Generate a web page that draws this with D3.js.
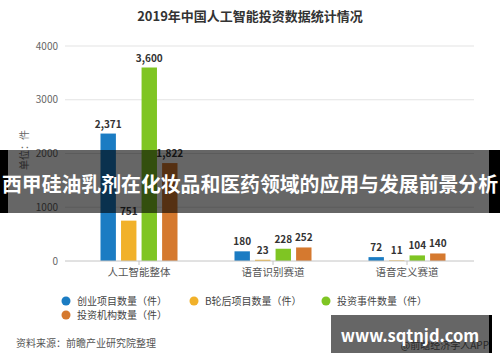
<!DOCTYPE html>
<html>
  <head>
    <meta charset="utf-8" />
    <script src="https://d3js.org/d3.v7.min.js"></script>
    <style>
      body {
        margin: 0;
        background: #fff;
      }
      svg text {
        font-family: "Noto Sans CJK SC", "Noto Sans", sans-serif;
      }
    </style>
  </head>
  <body>
    <div id="my_chart"></div>
    <script>
      // chart data
      const categories = ["人工智能整体", "语音识别赛道", "语音定义赛道"];
      const seriesNames = [
        "创业项目数量（件）",
        "B轮后项目数量（件）",
        "投资事件数量（件）",
        "投资机构数量（件）",
      ];
      const startups = [2371, 180, 72];
      const roundB = [751, 23, 11];
      const events = [3600, 228, 104];
      const investors = [1822, 252, 140];
      const yTicks = [0, 1000, 2000, 3000, 4000];

      const colors = ["#1b7cc3", "#f1b12a", "#7fc523", "#d5792f"];
      const allSeries = [startups, roundB, events, investors];

      const width = 500,
        height = 362;

      const svg = d3
        .select("#my_chart")
        .append("svg")
        .attr("width", width)
        .attr("height", height);

      // title
      svg
        .append("text")
        .attr("x", 250)
        .attr("y", 21)
        .attr("text-anchor", "middle")
        .attr("font-size", 13)
        .attr("font-weight", "bold")
        .attr("fill", "#333")
        .text("2019年中国人工智能投资数据统计情况");

      // scales
      const x = d3.scaleBand().domain(categories).range([72, 474]);
      const xInner = d3
        .scaleBand()
        .domain(d3.range(seriesNames.length))
        .range([-38.5, 38.5])
        .paddingInner(0.25);
      const y = d3.scaleLinear().domain([0, 4000]).range([261, 46]);

      // grid + y labels
      const grid = svg.append("g");
      grid
        .selectAll("line")
        .data(yTicks.filter((d) => d > 0))
        .enter()
        .append("line")
        .attr("x1", 65)
        .attr("x2", 474)
        .attr("y1", (d) => y(d))
        .attr("y2", (d) => y(d))
        .attr("stroke", "#e3e3e3");
      grid
        .selectAll("text")
        .data(yTicks)
        .enter()
        .append("text")
        .attr("x", 58)
        .attr("y", (d) => y(d) + 3.5)
        .attr("text-anchor", "end")
        .attr("font-size", 10)
        .attr("fill", "#666")
        .text((d) => d);

      // y axis title
      svg
        .append("text")
        .attr("transform", "translate(28,150) rotate(-90)")
        .attr("text-anchor", "middle")
        .attr("font-size", 10)
        .attr("fill", "#666")
        .text("单位：件");

      // bars
      const groups = svg
        .selectAll(".grp")
        .data(categories)
        .enter()
        .append("g")
        .attr("transform", (d) => `translate(${x(d) + x.bandwidth() / 2},0)`);

      groups.each(function (cat, ci) {
        const g = d3.select(this);
        const vals = allSeries.map((s) => s[ci]);
        g.selectAll("rect")
          .data(vals)
          .enter()
          .append("rect")
          .attr("x", (d, i) => xInner(i))
          .attr("width", xInner.bandwidth())
          .attr("y", (d) => y(d))
          .attr("height", (d) => y(0) - y(d))
          .attr("fill", (d, i) => colors[i]);
        g.selectAll("text")
          .data(vals)
          .enter()
          .append("text")
          .attr("x", (d, i) => xInner(i) + xInner.bandwidth() / 2)
          .attr("y", (d) => y(d) - 6)
          .attr("text-anchor", "middle")
          .attr("font-size", 10)
          .attr("font-weight", "bold")
          .attr("fill", "#333")
          .text((d) => d3.format(",")(d));
      });

      // x axis
      const xAxis = svg.append("g");
      xAxis
        .append("line")
        .attr("x1", 65)
        .attr("x2", 474)
        .attr("y1", y(0))
        .attr("y2", y(0))
        .attr("stroke", "#c4c4c4");
      xAxis
        .selectAll(".tick")
        .data(categories)
        .enter()
        .append("line")
        .attr("x1", (d) => x(d) + x.bandwidth() / 2)
        .attr("x2", (d) => x(d) + x.bandwidth() / 2)
        .attr("y1", y(0))
        .attr("y2", y(0) + 4)
        .attr("stroke", "#c4c4c4");
      xAxis
        .selectAll("text")
        .data(categories)
        .enter()
        .append("text")
        .attr("x", (d) => x(d) + x.bandwidth() / 2)
        .attr("y", 276)
        .attr("text-anchor", "middle")
        .attr("font-size", 10.5)
        .attr("fill", "#555")
        .text((d) => d);

      // legend
      const legendPos = [
        [66, 301],
        [194, 301],
        [326, 301],
        [66, 315],
      ];
      const legend = svg
        .selectAll(".leg")
        .data(seriesNames)
        .enter()
        .append("g")
        .attr("transform", (d, i) => `translate(${legendPos[i][0]},${legendPos[i][1]})`);
      legend
        .append("circle")
        .attr("r", 4.5)
        .attr("fill", (d, i) => colors[i]);
      legend
        .append("text")
        .attr("x", 11)
        .attr("y", 3.5)
        .attr("font-size", 10)
        .attr("fill", "#444")
        .text((d) => d);

      // source
      svg
        .append("text")
        .attr("x", 16)
        .attr("y", 347)
        .attr("font-size", 10)
        .attr("fill", "#555")
        .text("资料来源：前瞻产业研究院整理");
      svg
        .append("text")
        .attr("x", 489)
        .attr("y", 349)
        .attr("text-anchor", "end")
        .attr("font-size", 10)
        .attr("fill", "#666")
        .text("@前瞻经济学人APP");

      // overlay banner
      svg
        .append("rect")
        .attr("x", 0)
        .attr("y", 150)
        .attr("width", width)
        .attr("height", 63)
        .attr("fill", "#000")
        .attr("opacity", 0.6);
      svg.append("rect").attr("x", 0).attr("y", 150).attr("width", 8).attr("height", 63).attr("fill", "#000");
      svg.append("rect").attr("x", 489).attr("y", 150).attr("width", 11).attr("height", 63).attr("fill", "#000");
      svg
        .append("text")
        .attr("x", 250)
        .attr("y", 192)
        .attr("text-anchor", "middle")
        .attr("font-size", 20)
        .attr("font-weight", "bold")
        .attr("fill", "#fff")
        .attr("textLength", 496)
        .attr("lengthAdjust", "spacingAndGlyphs")
        .text("西甲硅油乳剂在化妆品和医药领域的应用与发展前景分析");

      // watermark box
      svg
        .append("rect")
        .attr("x", 331)
        .attr("y", 315)
        .attr("width", 159)
        .attr("height", 38)
        .attr("fill", "#000")
        .attr("opacity", 0.6);
      svg.append("rect").attr("x", 489).attr("y", 315).attr("width", 3).attr("height", 38).attr("fill", "#000");
      svg
        .append("text")
        .attr("x", 410)
        .attr("y", 342)
        .attr("text-anchor", "middle")
        .attr("font-size", 16.5)
        .attr("font-weight", "bold")
        .attr("fill", "#fff")
        .text("www.sqtnjd.com");
    </script>
  </body>
</html>
